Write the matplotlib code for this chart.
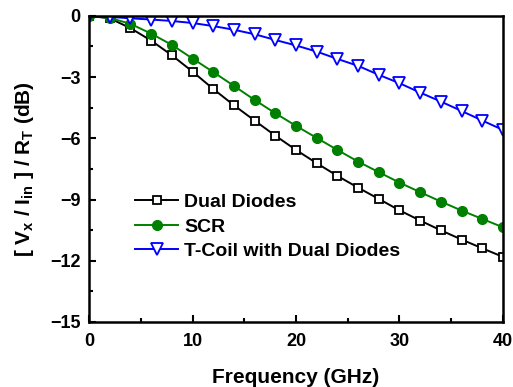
import numpy as np
import matplotlib.pyplot as plt
from matplotlib.ticker import MultipleLocator

plt.rcParams['font.family'] = ['Liberation Sans', 'DejaVu Sans']
plt.rcParams['font.weight'] = 'bold'
plt.rcParams['mathtext.fontset'] = 'custom'
plt.rcParams['mathtext.rm'] = 'Liberation Sans:bold'
plt.rcParams['mathtext.it'] = 'Liberation Sans:bold'
plt.rcParams['mathtext.bf'] = 'Liberation Sans:bold'

# frequency points (GHz)
freq = np.arange(0, 41, 2)

# (dB)
dual_diodes = [0, -0.12, -0.6, -1.21, -1.93, -2.73, -3.58, -4.38, -5.13, -5.87, -6.57,
               -7.22, -7.84, -8.42, -8.97, -9.53, -10.03, -10.51, -10.96, -11.39, -11.81]
scr = [0, -0.1, -0.39, -0.87, -1.42, -2.09, -2.75, -3.43, -4.12, -4.77, -5.39,
       -5.98, -6.57, -7.14, -7.66, -8.17, -8.64, -9.1, -9.54, -9.95, -10.36]
tcoil = [0, -0.05, -0.12, -0.18, -0.25, -0.35, -0.5, -0.68, -0.9, -1.18, -1.45,
         -1.75, -2.11, -2.45, -2.89, -3.3, -3.76, -4.2, -4.66, -5.13, -5.59]

fig = plt.figure(figsize=(5.13, 3.87), dpi=100)
ax = fig.add_axes([0.1735, 0.168, 0.807, 0.791])

ax.plot(freq, dual_diodes, color='black', lw=1.4, marker='s', ms=6,
        mfc='white', mec='black', mew=1.3, label='Dual Diodes')
ax.plot(freq, scr, color='#008000', lw=1.4, marker='o', ms=7,
        mfc='#008000', mec='#008000', label='SCR')
ax.plot(freq, tcoil, color='blue', lw=1.4, marker='v', ms=9,
        mfc='white', mec='blue', mew=1.3, label='T-Coil with Dual Diodes')

ax.set_xlim(0, 40)
ax.set_ylim(-15, 0)
ax.xaxis.set_major_locator(MultipleLocator(10))
ax.xaxis.set_minor_locator(MultipleLocator(5))
ax.yaxis.set_major_locator(MultipleLocator(3))
ax.yaxis.set_minor_locator(MultipleLocator(1.5))
ax.tick_params(which='both', direction='in', top=False, right=False, labelsize=13, width=1.5)
ax.tick_params(which='major', length=5, pad=6)
ax.tick_params(axis='x', which='major', pad=8)
ax.tick_params(which='minor', length=3)
for s in ax.spines.values():
    s.set_linewidth(1.8)

ax.set_xlabel('Frequency (GHz)', fontsize=15, fontweight='bold', labelpad=13)
ax.set_ylabel(r'[ V$_x$ / I$_{in}$ ] / R$_T$ (dB)', fontsize=15, fontweight='bold', labelpad=10)

ax.legend(loc='lower left', bbox_to_anchor=(0.07, 0.145), frameon=False,
          fontsize=14, handlelength=2.2, handletextpad=0.3, labelspacing=0.35)

plt.savefig('out.png', dpi=100)
